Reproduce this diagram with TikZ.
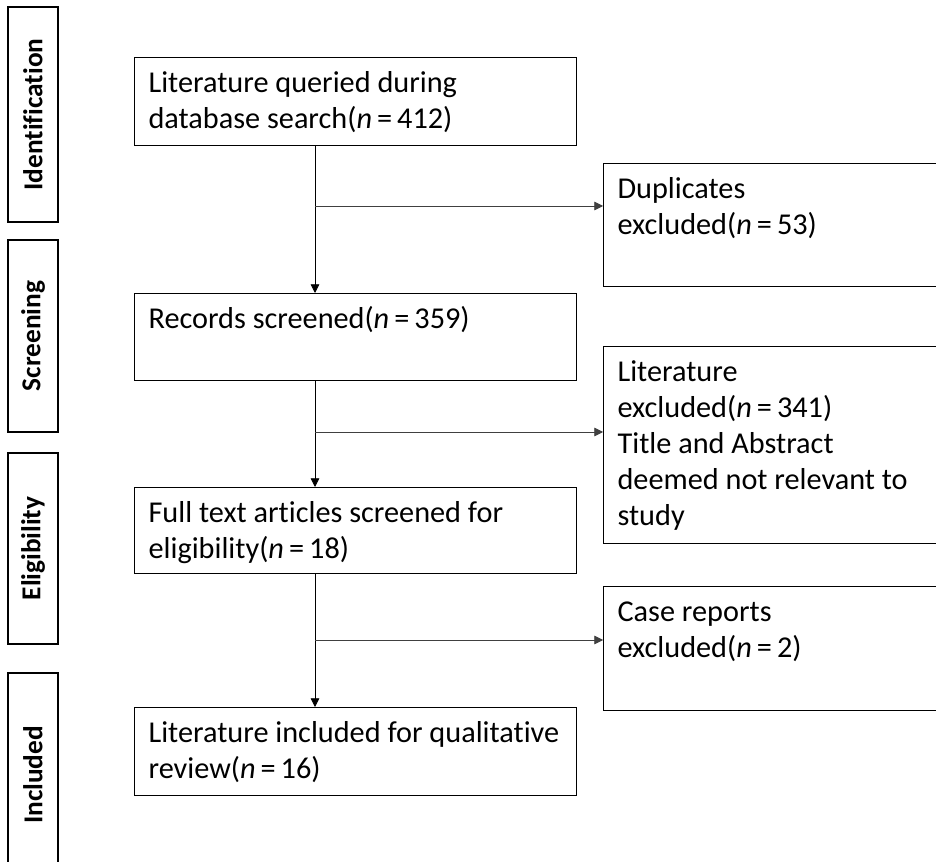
\documentclass[tikz,border=0pt]{standalone}
\usepackage{fontspec}
\setmainfont{Carlito}[Ligatures=NoCommon]
\usetikzlibrary{arrows.meta}

% top-aligned text inside a fixed box
\newcommand{\boxtext}[3]{\parbox[c][#2][t]{#1}{\raggedright\rule{0pt}{26pt}#3}}
\newcommand{\nval}[1]{(\textit{n}\,=\,#1)}

\begin{document}
\begin{tikzpicture}[
  x=0.75pt,
  y=-0.75pt,
  flowbox/.style={
    draw,
    line width=0.9pt,
    anchor=north west,
    inner xsep=10.5pt,
    inner ysep=0pt,
    font=\fontsize{22.7}{27}\selectfont
  },
  phase/.style={
    draw,
    line width=0.9pt,
    rotate=90,
    minimum height=37.5pt,
    inner sep=0pt,
    font=\fontsize{20.5}{24}\selectfont\bfseries
  },
  arrow/.style={-{Triangle[length=6.5pt,width=6.5pt]}, line width=0.6pt},
  branch/.style={-{Triangle[length=6.5pt,width=6.5pt]}, line width=0.5pt, draw=black!75}
]
\useasboundingbox (0,0) rectangle (936,862);
\clip (0,0) rectangle (936,862);

% phase labels
\node[phase, minimum width=161.25pt] (ident) at (33,114.5) {Identification};
\node[phase, minimum width=144pt] (screen) at (33,336) {Screening};
\node[phase, minimum width=143.25pt] (elig) at (33,548.5) {Eligibility};
\node[phase, minimum width=153pt] (incl) at (33,775) {Included};

% main flow
\node[flowbox] (query) at (134,57)
  {\boxtext{310.5pt}{66pt}{Literature queried during\\database search\nval{412}}};
\node[flowbox] (screened) at (134,293)
  {\boxtext{310.5pt}{65.25pt}{Records screened\nval{359}}};
\node[flowbox] (fulltext) at (134,487)
  {\boxtext{310.5pt}{64.5pt}{Full text articles screened for\\eligibility\nval{18}}};
\node[flowbox] (included) at (134,707)
  {\boxtext{310.5pt}{66pt}{Literature included for qualitative\\review\nval{16}}};

% exclusions
\node[flowbox] (dup) at (603,163)
  {\boxtext{239pt}{92.25pt}{Duplicates\\excluded\nval{53}}};
\node[flowbox] (litex) at (603,346)
  {\boxtext{239pt}{147.75pt}{Literature\\excluded\nval{341}\\Title and Abstract\\deemed not relevant to\\study}};
\node[flowbox] (cases) at (603,586)
  {\boxtext{239pt}{93pt}{Case reports\\excluded\nval{2}}};

\coordinate (trunk) at (315,0);
\coordinate (split1) at (315,206);
\coordinate (split2) at (315,432);
\coordinate (split3) at (315,640);

\draw[arrow] (query.south -| trunk) -- (screened.north -| trunk);
\draw[arrow] (screened.south -| trunk) -- (fulltext.north -| trunk);
\draw[arrow] (fulltext.south -| trunk) -- (included.north -| trunk);

\draw[branch] (split1) -- (split1 -| dup.west);
\draw[branch] (split2) -- (split2 -| litex.west);
\draw[branch] (split3) -- (split3 -| cases.west);
\end{tikzpicture}
\end{document}
